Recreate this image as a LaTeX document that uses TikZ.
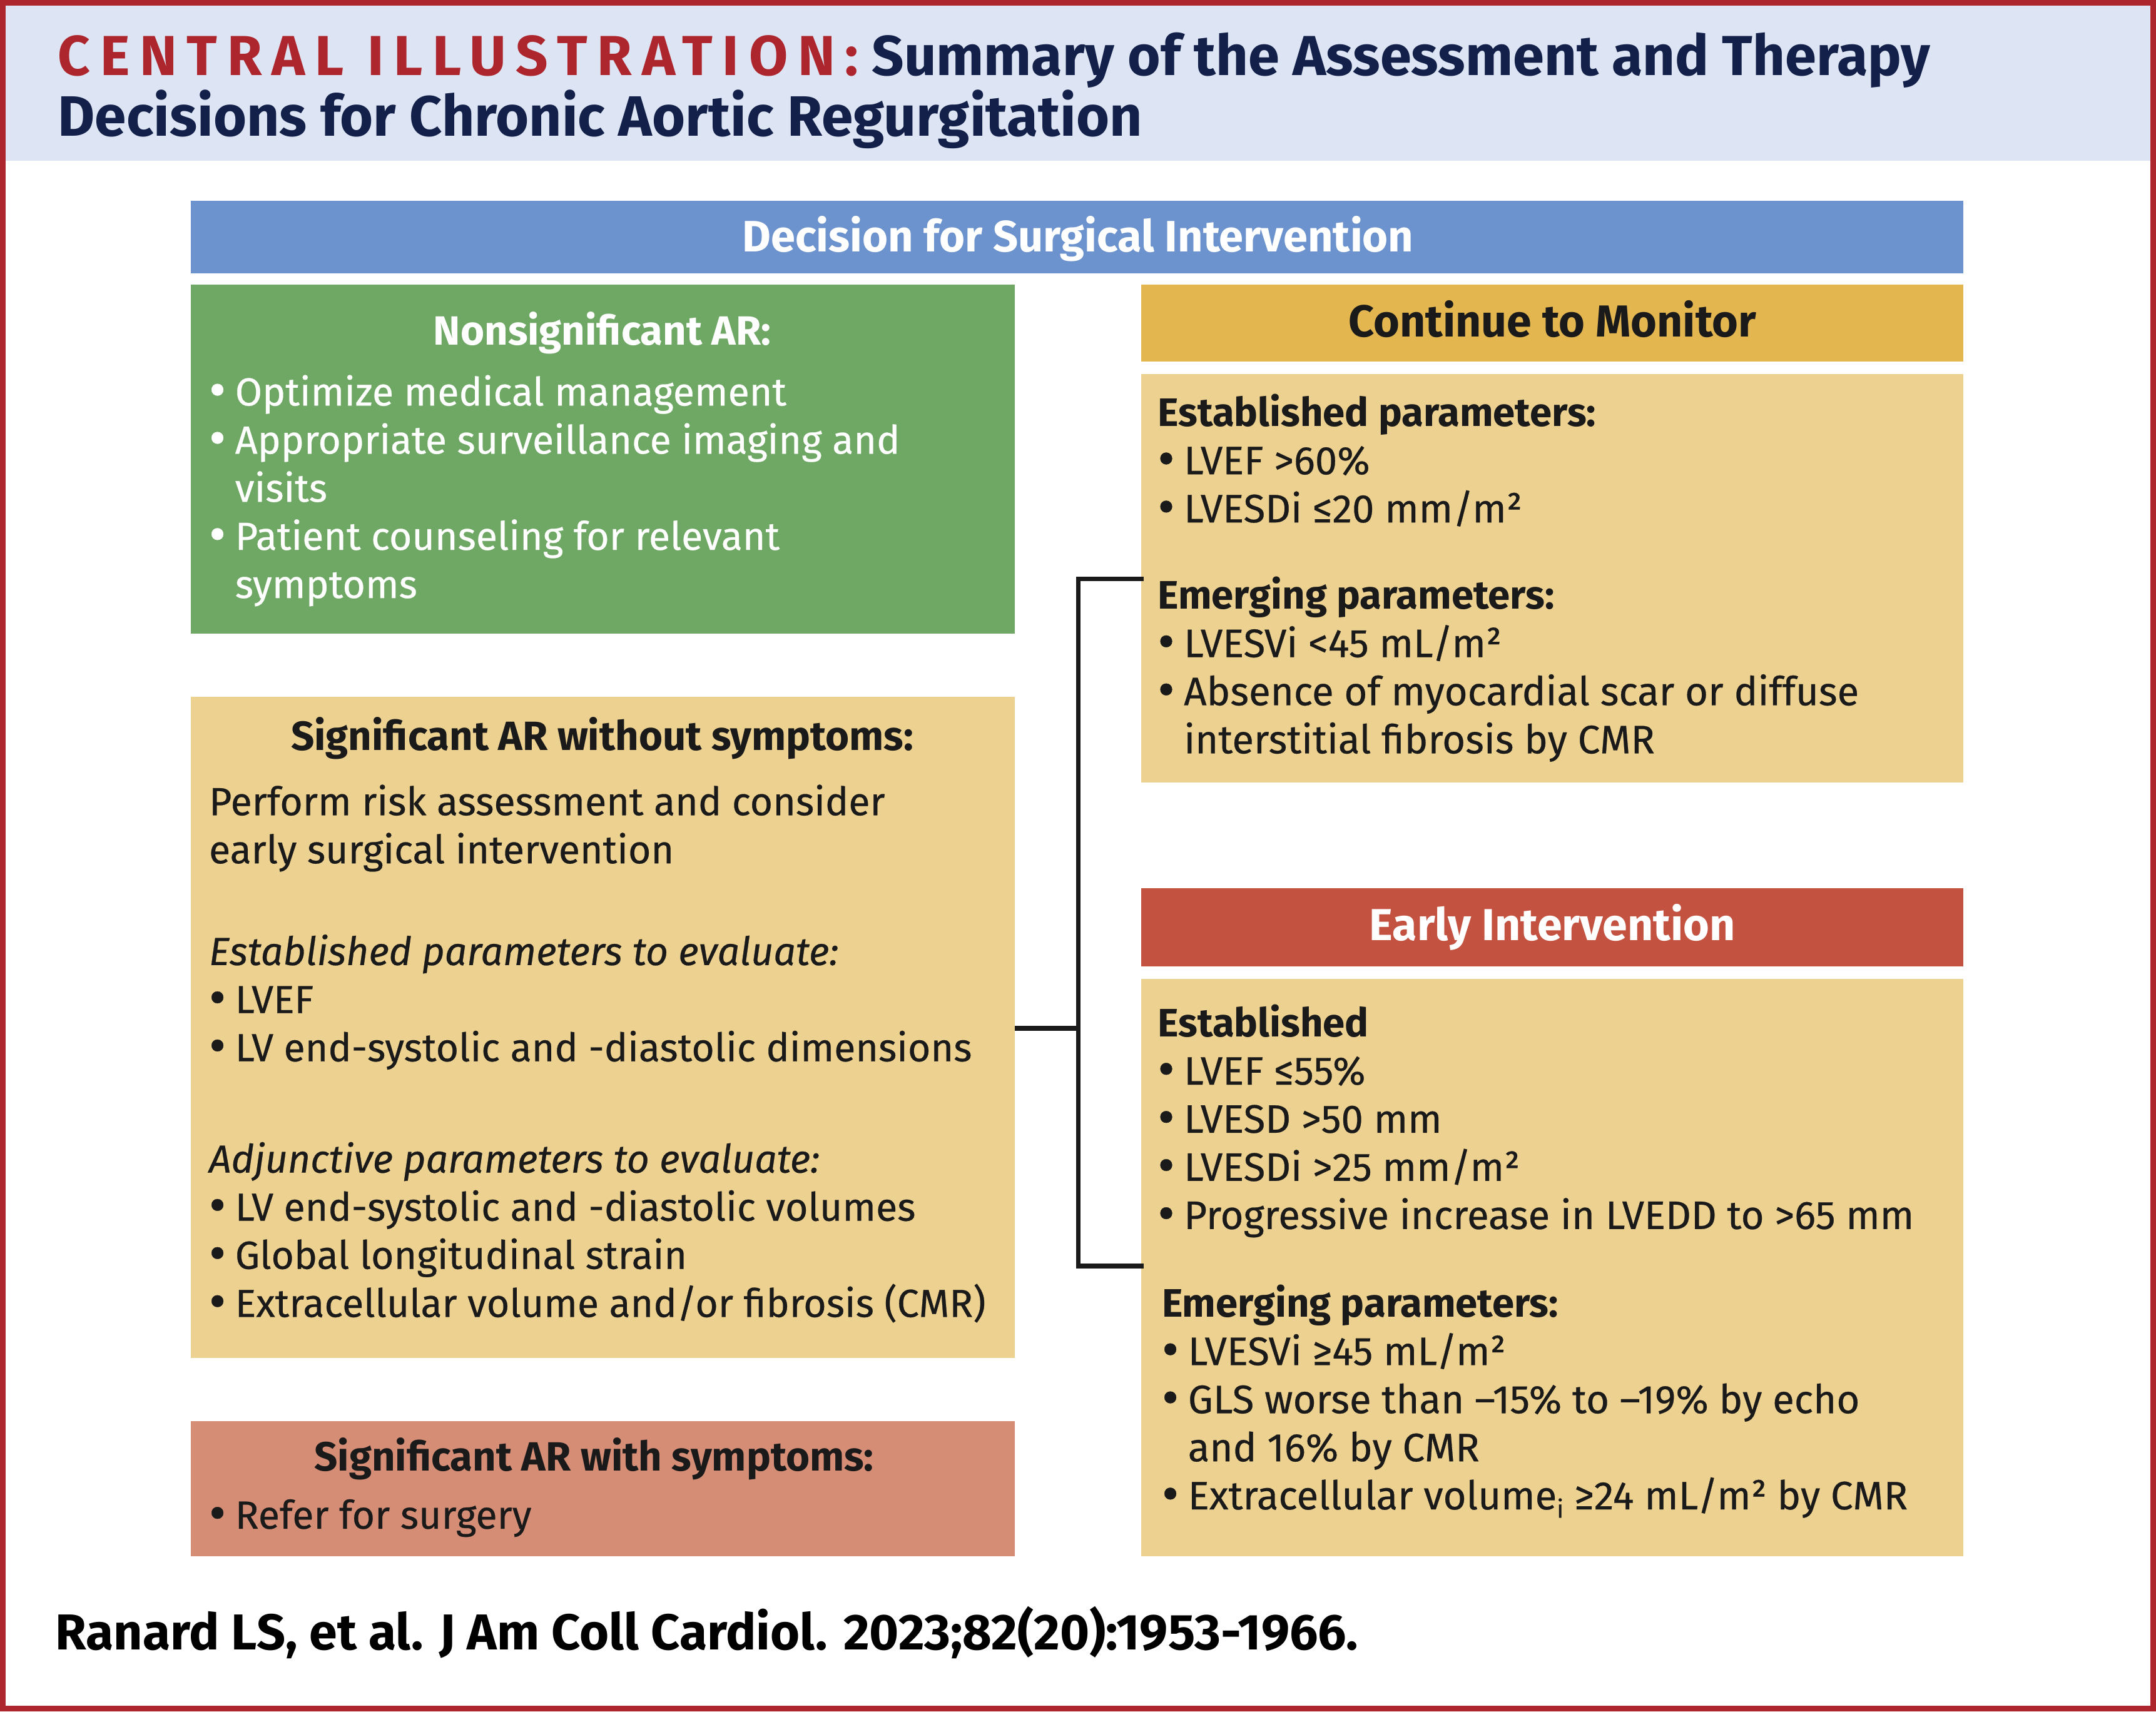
\documentclass[tikz,border=0pt]{standalone}
\usepackage{fontspec}
\setmainfont{Fira Sans}[UprightFeatures={FakeBold=0.4},ItalicFeatures={FakeBold=0.4}]
\definecolor{framered}{HTML}{AE262D}
\definecolor{band}{HTML}{DDE4F3}
\definecolor{navy}{HTML}{13214A}
\definecolor{barblue}{HTML}{6C93CD}
\definecolor{green}{HTML}{6FA765}
\definecolor{tan}{HTML}{EDD190}
\definecolor{salmon}{HTML}{D58D75}
\definecolor{gold}{HTML}{E4B650}
\definecolor{brick}{HTML}{C45240}
\definecolor{ink}{HTML}{1A1A1A}
\newcommand\itm[1]{\makebox[19pt][l]{\raisebox{-1.5pt}{\fontsize{38}{35}\selectfont•}}#1}
\newcommand\cnt[1]{\hspace*{19pt}#1}
\newcommand\blk[2]{\parbox[t]{#1}{\raggedright #2}}
\begin{document}
\begin{tikzpicture}[x=1pt,y=-1pt,
  panel/.style={anchor=north west,inner sep=0,outer sep=0,draw=none},
  body/.style={anchor=base west,inner sep=0,outer sep=0,text=ink,font=\fontsize{28.5}{35}\selectfont},
  bodyr/.style={body,font=\fontsize{28.9}{35}\selectfont},
  headc/.style={anchor=base,inner sep=0,outer sep=0,font=\fontsize{29.7}{35}\selectfont\bfseries},
  bighead/.style={headc,font=\fontsize{32.6}{35}\selectfont\bfseries},
  link/.style={line width=3.3pt,draw=ink}]
\useasboundingbox (0,0) rectangle (1568,1245);
% frame and title band
\fill[band] (2,4) rectangle (1566,117);
\draw[framered,line width=4pt] (2,2) rectangle (1566,1243);
\node[anchor=base west,inner sep=0] (title1) at (42,55)
  {\fontsize{41}{46}\selectfont\bfseries{\color{framered}\addfontfeature{LetterSpace=17.5}CENTRAL ILLUSTRATION:} \color{navy}Summary of the Assessment and Therapy};
\node[anchor=base west,inner sep=0,text=navy] (title2) at (42,99)
  {\fontsize{41.4}{46}\selectfont\bfseries Decisions for Chronic Aortic Regurgitation};
% top bar
\node[panel,fill=barblue,minimum width=1289pt,minimum height=53pt] (bar) at (139,146) {};
\node[headc,text=white,font=\fontsize{32}{35}\selectfont\bfseries] (bart) at (784,183) {Decision for Surgical Intervention};
% left column
\node[panel,fill=green,minimum width=599pt,minimum height=254pt] (nonsig) at (139,207) {};
\node[headc,text=white] (nonsigh) at (438,251) {Nonsignificant AR:};
\node[body,text=white] (nonsigt) at (152,295) {\blk{580pt}{\itm{Optimize medical management}\\
 \itm{Appropriate surveillance imaging and}\\ \cnt{visits}\\
 \itm{Patient counseling for relevant}\\ \cnt{symptoms}}};
\node[panel,fill=tan,minimum width=599pt,minimum height=481pt] (asym) at (139,507) {};
\node[headc,text=ink] (asymh) at (438,546) {Significant AR without symptoms:};
\node[body] (asymt1) at (152,593) {\blk{580pt}{Perform risk assessment and consider\\ early surgical intervention}};
\node[body] (asymt2) at (152,702) {\blk{580pt}{\textit{Established parameters to evaluate:}\\
 \itm{LVEF}\\ \itm{LV end-systolic and -diastolic dimensions}}};
\node[body] (asymt3) at (152,853) {\blk{590pt}{\textit{Adjunctive parameters to evaluate:}\\
 \itm{LV end-systolic and -diastolic volumes}\\ \itm{Global longitudinal strain}\\
 \itm{Extracellular volume and/or fibrosis (CMR)}}};
\node[panel,fill=salmon,minimum width=599pt,minimum height=98pt] (sym) at (139,1034) {};
\node[headc,text=ink] (symh) at (432,1070) {Significant AR with symptoms:};
\node[body] (symt) at (152,1112) {\itm{Refer for surgery}};
% right column
\node[panel,fill=gold,minimum width=598pt,minimum height=56pt] (mon) at (830,207) {};
\node[bighead,text=ink] (monh) at (1129,245) {Continue to Monitor};
\node[panel,fill=tan,minimum width=598pt,minimum height=297pt] (monb) at (830,272) {};
\node[bodyr] (mont1) at (842,310) {\blk{580pt}{\textbf{Established parameters:}\\
 \itm{LVEF >60\%}\\ \itm{LVESDi ≤20 mm/m²}}};
\node[bodyr] (mont2) at (842,443) {\blk{580pt}{\textbf{Emerging parameters:}\\
 \itm{LVESVi <45 mL/m²}\\ \itm{Absence of myocardial scar or diffuse}\\
 \cnt{interstitial fibrosis by CMR}}};
\node[panel,fill=brick,minimum width=598pt,minimum height=57pt] (early) at (830,646) {};
\node[bighead,text=white] (earlyh) at (1129,684) {Early Intervention};
\node[panel,fill=tan,minimum width=598pt,minimum height=420pt] (earlyb) at (830,712) {};
\node[bodyr] (earlyt1) at (842,754) {\blk{590pt}{\textbf{Established}\\
 \itm{LVEF ≤55\%}\\ \itm{LVESD >50 mm}\\ \itm{LVESDi >25 mm/m²}\\
 \itm{Progressive increase in LVEDD to >65 mm}}};
\node[bodyr] (earlyt2) at (845,958) {\blk{590pt}{\textbf{Emerging parameters:}\\
 \itm{LVESVi ≥45 mL/m²}\\ \itm{GLS worse than –15\% to –19\% by echo}\\
 \cnt{and 16\% by CMR}\\
 \itm{Extracellular volume\raisebox{-6pt}{\fontsize{18}{18}\selectfont i} ≥24 mL/m² by CMR}}};
% connector
\coordinate (hub) at (784.3,748);
\draw[link] (asym.east |- hub) -- (hub);
\draw[link,line cap=rect] (monb.west |- 0,421) -| (hub) |- (earlyb.west |- 0,921);
% citation
\node[anchor=base west,inner sep=0,text=black] (cite) at (40,1200)
  {\fontsize{36.7}{40}\selectfont\bfseries Ranard LS, et al. J Am Coll Cardiol. 2023;82(20):1953-1966.};
\end{tikzpicture}
\end{document}
